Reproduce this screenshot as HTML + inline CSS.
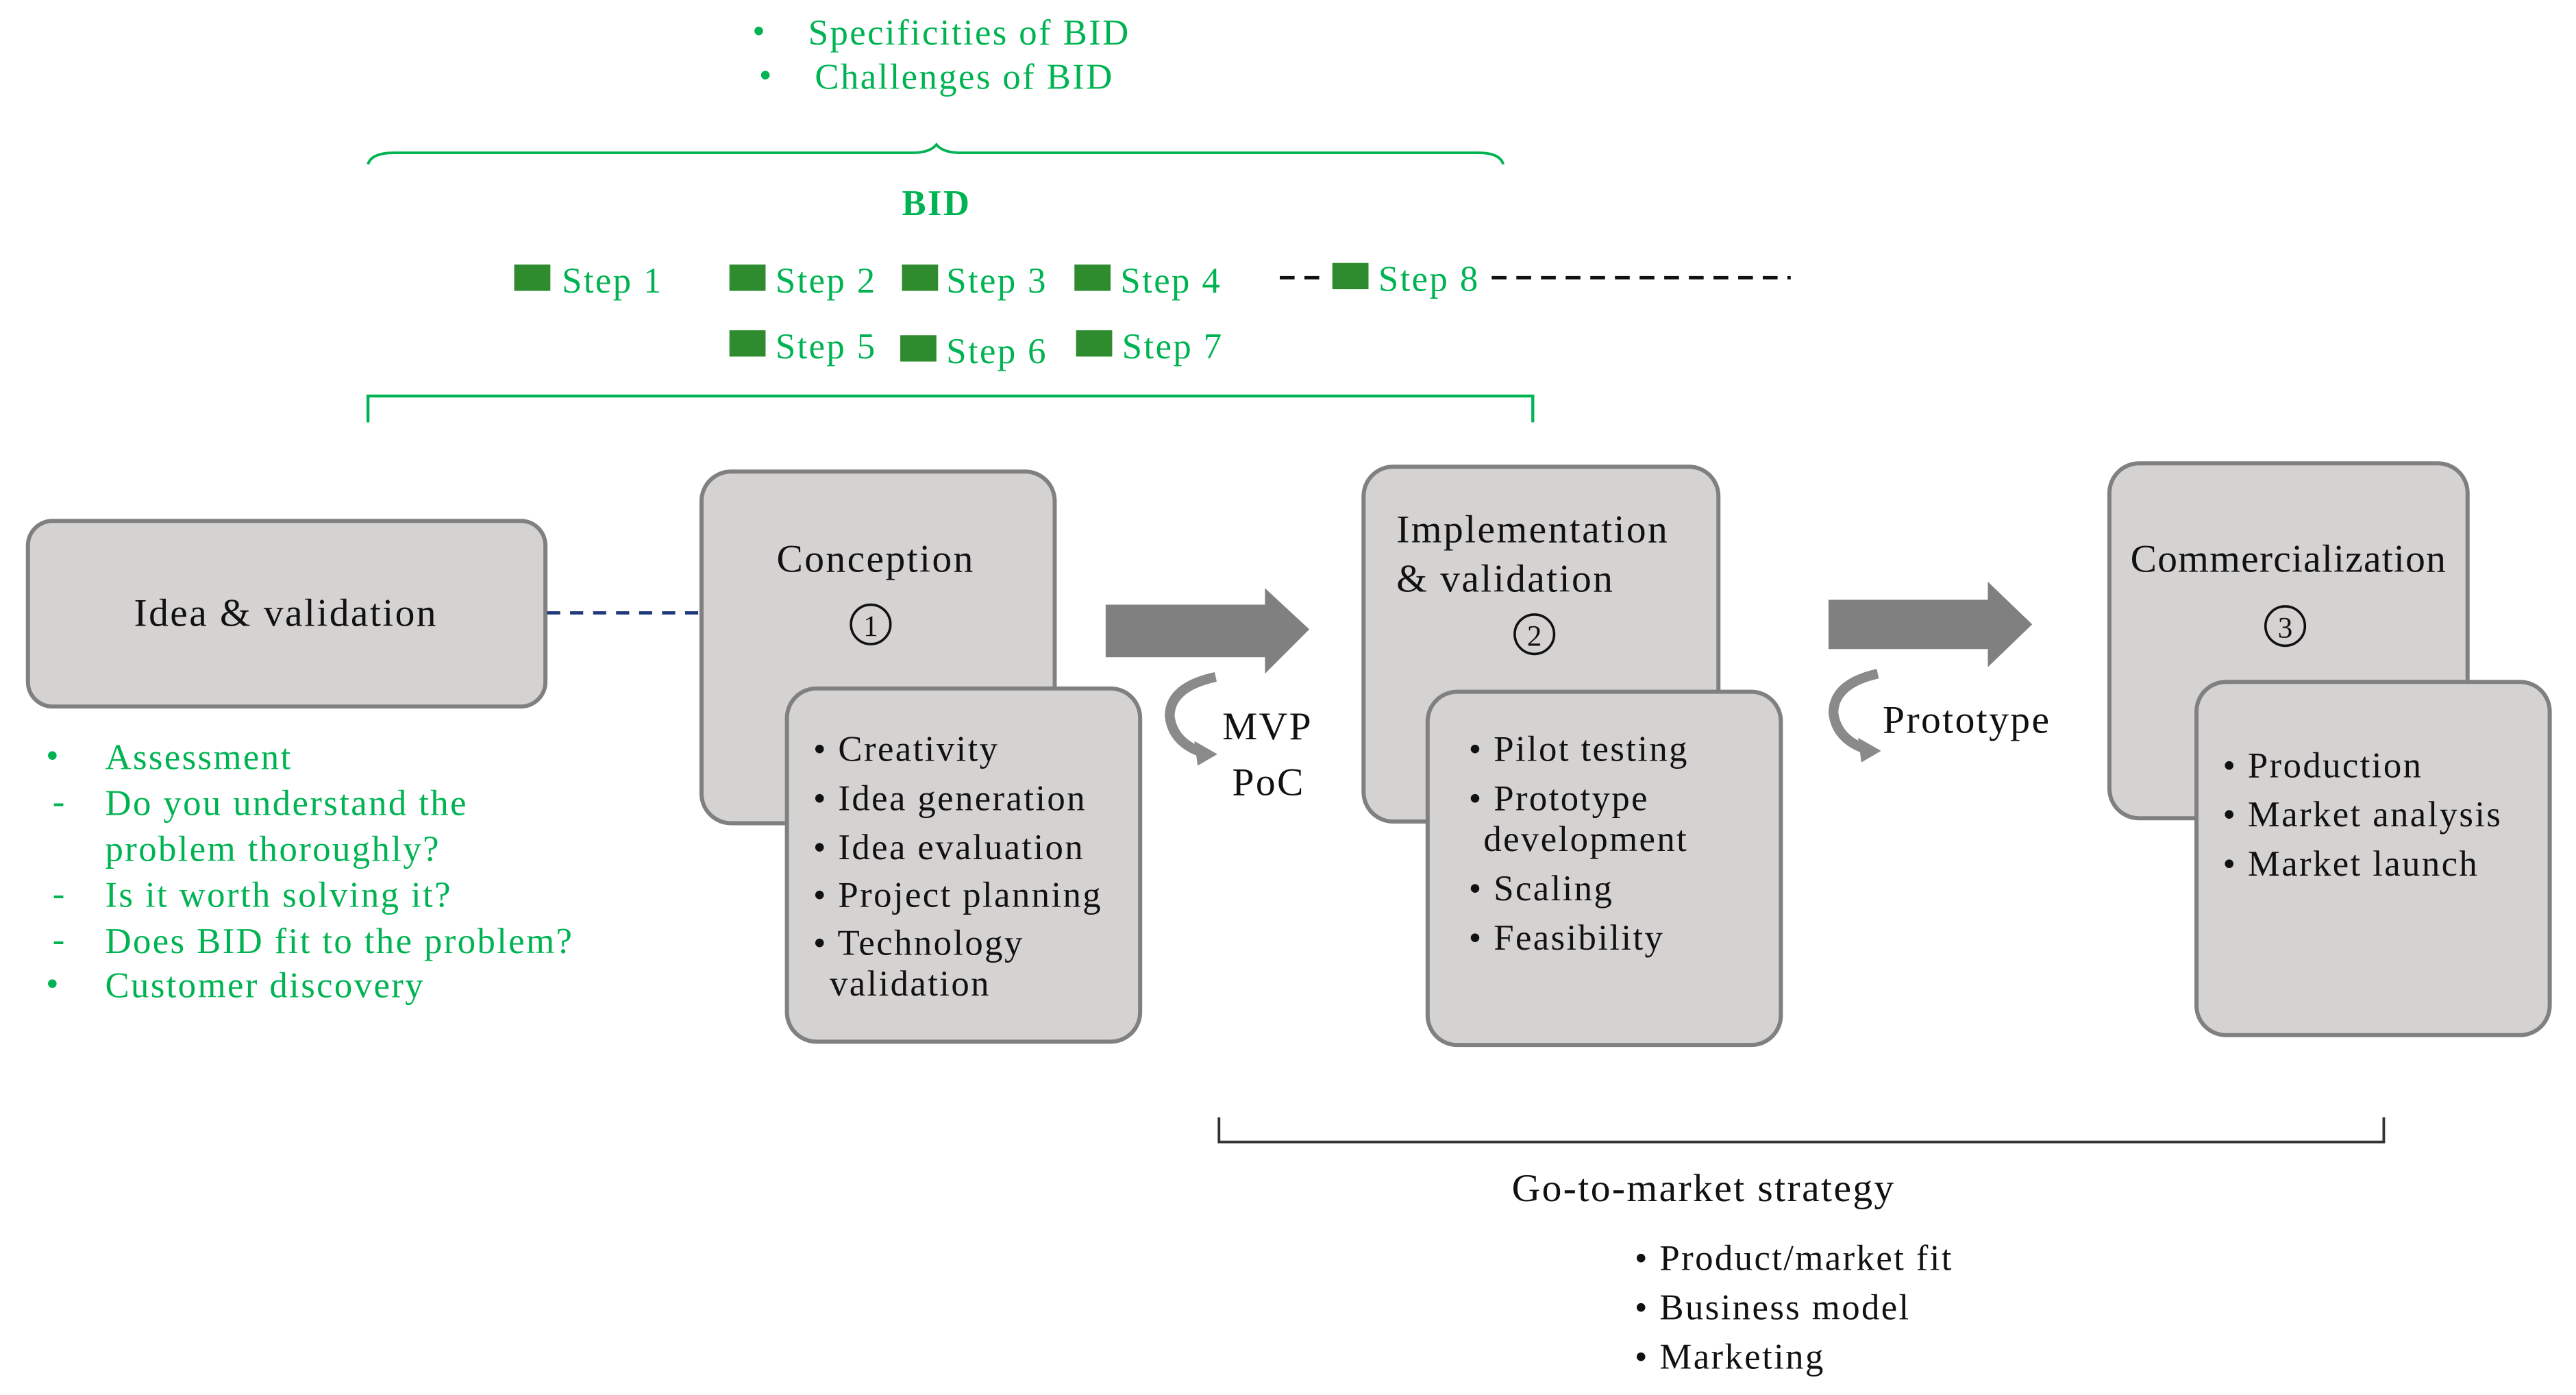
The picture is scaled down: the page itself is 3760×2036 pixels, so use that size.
<!DOCTYPE html>
<html><head><meta charset="utf-8"><style>
html,body{margin:0;padding:0;background:#fff;}
svg{display:block;}
text{font-family:"Liberation Serif",serif;letter-spacing:1px;}
.g{fill:#00b352;font-size:22px;}
.k{fill:#111;font-size:22px;}
.box{fill:#d5d2d2;stroke:#808080;stroke-width:2.5;}
.sq{fill:#2e8b2e;}
</style></head><body>
<svg width="3760" height="2036" viewBox="0 0 1568 849" xmlns="http://www.w3.org/2000/svg">
<rect width="1568" height="849" fill="#fff"/>
<text class="g" x="458" y="26">•</text><text class="g" x="492" y="27">Specificities of BID</text>
<text class="g" x="462" y="53">•</text><text class="g" x="496" y="54">Challenges of BID</text>
<path d="M224 100 Q226 93 240 93 L555 93 Q566 93 570 88 Q574 93 585 93 L900 93 Q913 93 915 100" fill="none" stroke="#00b352" stroke-width="1.6"/>
<text x="570" y="131" text-anchor="middle" style="fill:#00b352;font-size:22px;font-weight:bold">BID</text>
<rect class="sq" x="313" y="161" width="22" height="16"/><text class="g" x="342" y="178">Step 1</text>
<rect class="sq" x="444" y="161" width="22" height="16"/><text class="g" x="472" y="178">Step 2</text>
<rect class="sq" x="549" y="161" width="22" height="16"/><text class="g" x="576" y="178">Step 3</text>
<rect class="sq" x="654" y="161" width="22" height="16"/><text class="g" x="682" y="178">Step 4</text>
<line x1="779" y1="169" x2="808" y2="169" stroke="#111" stroke-width="2" stroke-dasharray="9,6"/>
<rect class="sq" x="811" y="160" width="22" height="16"/><text class="g" x="839" y="177">Step 8</text>
<line x1="908" y1="169" x2="1090" y2="169" stroke="#111" stroke-width="2" stroke-dasharray="9,6"/>
<rect class="sq" x="444" y="201" width="22" height="16"/><text class="g" x="472" y="218">Step 5</text>
<rect class="sq" x="548" y="204" width="22" height="16"/><text class="g" x="576" y="221">Step 6</text>
<rect class="sq" x="655" y="201" width="22" height="16"/><text class="g" x="683" y="218">Step 7</text>
<path d="M224 257 L224 241 L933 241 L933 257" fill="none" stroke="#00b352" stroke-width="1.8"/>
<rect class="box" x="17" y="317" width="315" height="113" rx="15"/>
<text class="k" x="174" y="381" text-anchor="middle" style="font-size:24px">Idea &amp; validation</text>
<line x1="333" y1="373" x2="427" y2="373" stroke="#1f3a7a" stroke-width="2" stroke-dasharray="8,6"/>
<g class="g">
<text x="28" y="467">•</text><text x="64" y="468">Assessment</text>
<text x="32" y="495">-</text><text x="64" y="496">Do you understand the</text>
<text x="64" y="524">problem thoroughly?</text>
<text x="32" y="551">-</text><text x="64" y="552">Is it worth solving it?</text>
<text x="32" y="579">-</text><text x="64" y="580">Does BID fit to the problem?</text>
<text x="28" y="606">•</text><text x="64" y="607">Customer discovery</text>
</g>
<rect class="box" x="427" y="287" width="215" height="214" rx="18"/>
<text class="k" x="533" y="348" text-anchor="middle" style="font-size:24px">Conception</text>
<circle cx="530" cy="380" r="12" fill="none" stroke="#111" stroke-width="1.5"/>
<text class="k" x="530" y="387" text-anchor="middle" style="font-size:18px;letter-spacing:0">1</text>
<rect class="box" x="479" y="419" width="215" height="215" rx="18"/>
<g class="k">
<text x="495" y="463">• Creativity</text>
<text x="495" y="493">• Idea generation</text>
<text x="495" y="523">• Idea evaluation</text>
<text x="495" y="552">• Project planning</text>
<text x="495" y="581">• Technology</text>
<text x="505" y="606">validation</text>
</g>
<path d="M673 368 L770 368 L770 358 L797 383 L770 410 L770 400 L673 400 Z" fill="#808080"/>
<path d="M740 412 Q712 418 712 436 Q714 452 732 458" fill="none" stroke="#8a8a8a" stroke-width="6"/>
<path d="M727 451 L741 459 L729 466 Z" fill="#8a8a8a"/>
<text class="k" x="744" y="450" style="font-size:24px">MVP</text>
<text class="k" x="750" y="484" style="font-size:24px">PoC</text>
<rect class="box" x="830" y="284" width="216" height="216" rx="18"/>
<text class="k" x="850" y="330" style="font-size:24px">Implementation</text>
<text class="k" x="850" y="360" style="font-size:24px">&amp; validation</text>
<circle cx="934" cy="386" r="12" fill="none" stroke="#111" stroke-width="1.5"/>
<text class="k" x="934" y="393" text-anchor="middle" style="font-size:18px;letter-spacing:0">2</text>
<rect class="box" x="869" y="421" width="215" height="215" rx="18"/>
<g class="k">
<text x="894" y="463">• Pilot testing</text>
<text x="894" y="493">• Prototype</text>
<text x="903" y="518">development</text>
<text x="894" y="548">• Scaling</text>
<text x="894" y="578">• Feasibility</text>
</g>
<path d="M1113 365 L1210 365 L1210 354 L1237 380 L1210 406 L1210 395 L1113 395 Z" fill="#808080"/>
<path d="M1143 410 Q1116 416 1116 434 Q1118 450 1136 456" fill="none" stroke="#8a8a8a" stroke-width="6"/>
<path d="M1131 449 L1145 457 L1133 464 Z" fill="#8a8a8a"/>
<text class="k" x="1146" y="446" style="font-size:24px">Prototype</text>
<rect class="box" x="1284" y="282" width="218" height="216" rx="18"/>
<text class="k" x="1393" y="348" text-anchor="middle" style="font-size:24px;letter-spacing:0.5px">Commercialization</text>
<circle cx="1391" cy="381" r="12" fill="none" stroke="#111" stroke-width="1.5"/>
<text class="k" x="1391" y="388" text-anchor="middle" style="font-size:18px;letter-spacing:0">3</text>
<rect class="box" x="1337" y="415" width="215" height="215" rx="18"/>
<g class="k">
<text x="1353" y="473">• Production</text>
<text x="1353" y="503">• Market analysis</text>
<text x="1353" y="533">• Market launch</text>
</g>
<path d="M742 680 L742 695 L1451 695 L1451 680" fill="none" stroke="#333" stroke-width="1.6"/>
<text class="k" x="1037" y="731" text-anchor="middle" style="font-size:24px">Go-to-market strategy</text>
<g class="k">
<text x="995" y="773">• Product/market fit</text>
<text x="995" y="803">• Business model</text>
<text x="995" y="833">• Marketing</text>
</g>
</svg>
</body></html>
